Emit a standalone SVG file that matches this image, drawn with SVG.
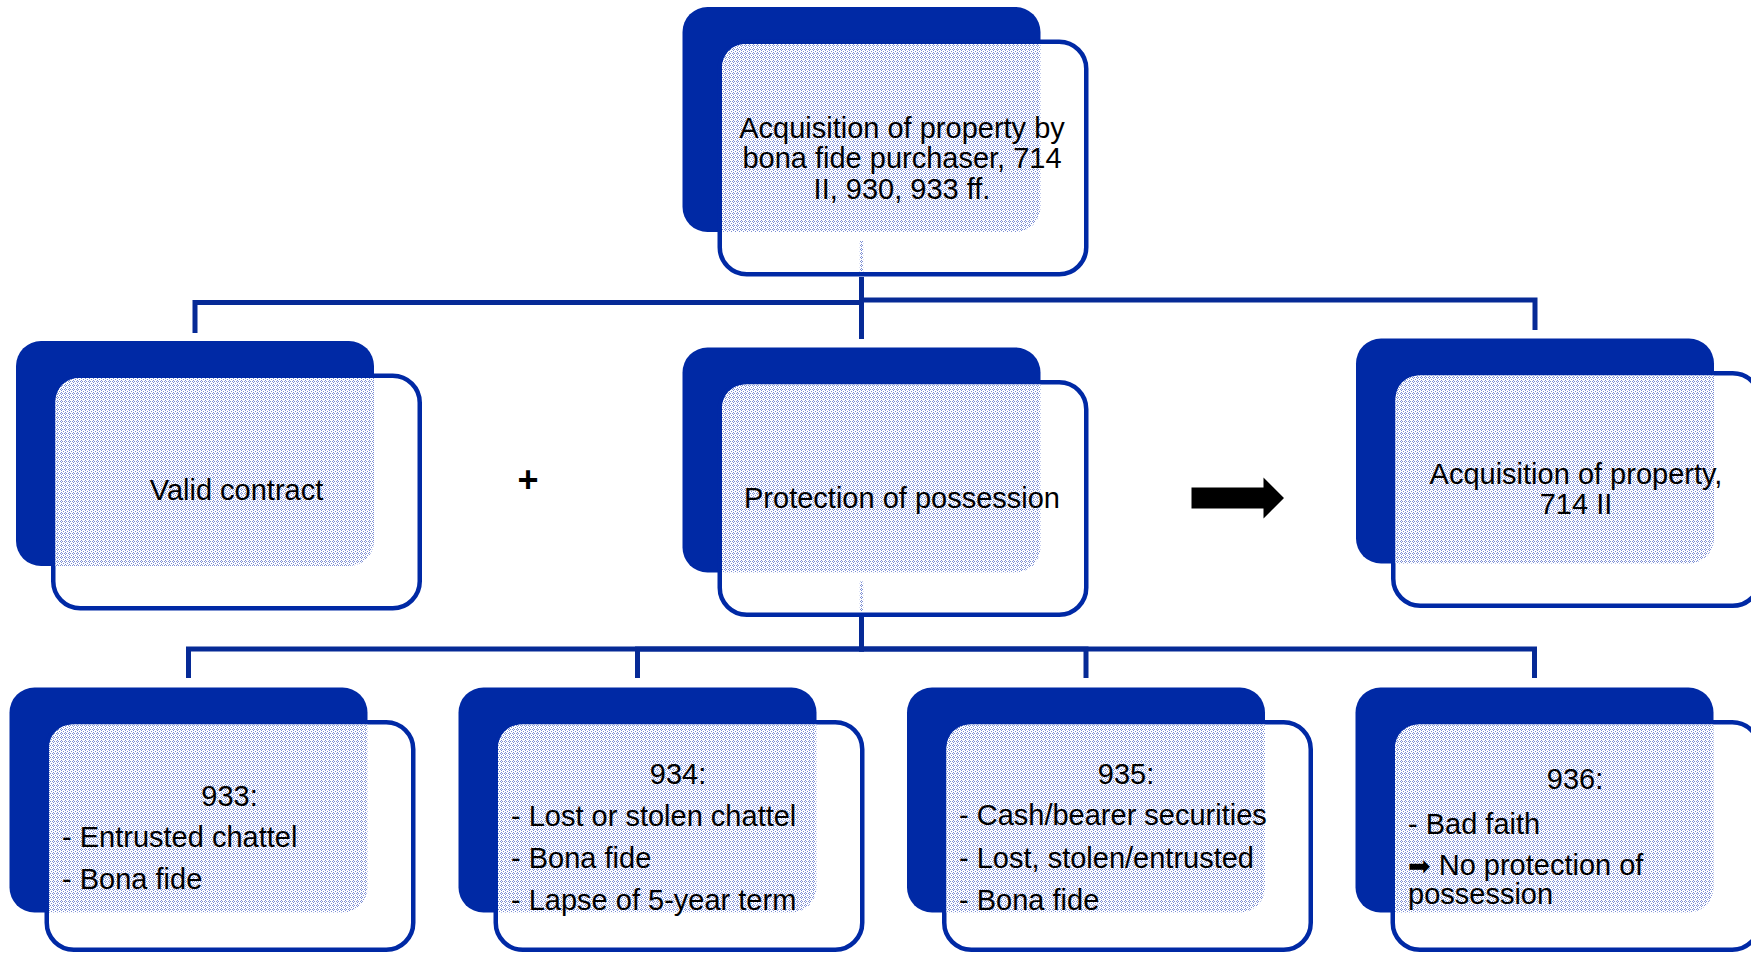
<svg xmlns="http://www.w3.org/2000/svg" width="1751" height="953" viewBox="0 0 1751 953">
  <defs>
    <!-- light blue dither used on the front cards -->
    <pattern id="dots" width="4" height="4" patternUnits="userSpaceOnUse">
      <rect width="4" height="4" fill="#ffffff"/>
      <rect x="1" y="0" width="1" height="1" fill="#7d8fd4"/>
      <rect x="0" y="1" width="1" height="1" fill="#7d8fd4"/>
      <rect x="2" y="1" width="1" height="1" fill="#7d8fd4"/>
      <rect x="1" y="2" width="1" height="1" fill="#7d8fd4"/>
      <rect x="3" y="3" width="1" height="1" fill="#7d8fd4"/>
    </pattern>
  </defs>
  <style>
    .back { fill: #0029a5; }
    .front { fill: #ffffff; stroke: #0029a5; stroke-width: 4.5; }
    .shade { fill: url(#dots); }
    .conn { fill: none; stroke: #062a96; stroke-width: 5; stroke-linejoin: miter; stroke-linecap: butt; }
    text { font-family: "Liberation Sans", Arial, sans-serif; font-size: 29px; fill: #000000; }
    .c { text-anchor: middle; }
    .sym { font-family: "DejaVu Sans", sans-serif; font-size: 27px; }
  </style>

  <!-- connectors -->
  <g id="connectors">
    <path class="conn" d="M861.5,277 V302.5 H195 V333"/>
    <path class="conn" d="M861.5,277 V300 H1535 V330"/>
    <path class="conn" d="M861.5,277 V339"/>
    <path class="conn" d="M861.5,617 V649 H188.5 V678"/>
    <path class="conn" d="M861.5,617 V649 H637.5 V678"/>
    <path class="conn" d="M861.5,617 V649 H1086 V678"/>
    <path class="conn" d="M861.5,617 V649 H1534.5 V678"/>
  </g>

  <!-- top: acquisition by bona fide purchaser -->
  <g id="node-top">
    <rect class="back" x="682.5" y="7" width="358" height="225" rx="25"/>
    <rect class="front" x="719.75" y="41.75" width="366.5" height="232.5" rx="27"/>
    <path class="shade" d="M722,67 A23,23 0 0 1 745,44 H1040.5 V207 A25,25 0 0 1 1015.5,232 H722 Z"/>
    <rect class="shade" x="859.75" y="241" width="3.5" height="31"/>
    <text class="c" x="902" y="137.5">Acquisition of property by</text>
    <text class="c" x="902" y="168">bona fide purchaser, 714</text>
    <text class="c" x="902" y="198.5">II, 930, 933 ff.</text>
  </g>

  <!-- middle row -->
  <g id="node-contract">
    <rect class="back" x="16" y="341" width="358" height="225" rx="25"/>
    <rect class="front" x="53.25" y="375.75" width="366.5" height="232.5" rx="27"/>
    <path class="shade" d="M55.5,401 A23,23 0 0 1 78.5,378 H374 V541 A25,25 0 0 1 349,566 H55.5 Z"/>
    <text class="c" x="236.5" y="500">Valid contract</text>
  </g>

  <g id="plus">
    <text class="c" x="528" y="492" style="font-size:36px;font-weight:bold">+</text>
  </g>

  <g id="node-possession">
    <rect class="back" x="682.5" y="347.5" width="358" height="225" rx="25"/>
    <rect class="front" x="719.75" y="382.25" width="366.5" height="232.5" rx="27"/>
    <path class="shade" d="M722,407.5 A23,23 0 0 1 745,384.5 H1040.5 V547.5 A25,25 0 0 1 1015.5,572.5 H722 Z"/>
    <rect class="shade" x="859.75" y="581.5" width="3.5" height="29.5"/>
    <text class="c" x="902" y="507.5">Protection of possession</text>
  </g>

  <g id="arrow">
    <polygon fill="#000000" points="1191.5,487.5 1263.5,487.5 1263.5,477.5 1284,498 1263.5,518.5 1263.5,508.5 1191.5,508.5"/>
  </g>

  <g id="node-result">
    <rect class="back" x="1356" y="338.5" width="358" height="225" rx="25"/>
    <rect class="front" x="1393.25" y="373.25" width="366.5" height="232.5" rx="27"/>
    <path class="shade" d="M1395.5,398.5 A23,23 0 0 1 1418.5,375.5 H1714 V538.5 A25,25 0 0 1 1689,563.5 H1395.5 Z"/>
    <text class="c" x="1576" y="484">Acquisition of property,</text>
    <text class="c" x="1576" y="514">714 II</text>
  </g>

  <!-- bottom row: sections 933 - 936 -->
  <g id="node-933">
    <rect class="back" x="9.5" y="687.5" width="358" height="225" rx="25"/>
    <rect class="front" x="46.75" y="722.25" width="366.5" height="227.5" rx="27"/>
    <path class="shade" d="M49,747.5 A23,23 0 0 1 72,724.5 H367.5 V887.5 A25,25 0 0 1 342.5,912.5 H49 Z"/>
    <text class="c" x="229.5" y="805.5">933:</text>
    <text x="62" y="846.5">- Entrusted chattel</text>
    <text x="62" y="888.5">- Bona fide</text>
  </g>

  <g id="node-934">
    <rect class="back" x="458.5" y="687.5" width="358" height="225" rx="25"/>
    <rect class="front" x="495.75" y="722.25" width="366.5" height="227.5" rx="27"/>
    <path class="shade" d="M498,747.5 A23,23 0 0 1 521,724.5 H816.5 V887.5 A25,25 0 0 1 791.5,912.5 H498 Z"/>
    <text class="c" x="678" y="783.5">934:</text>
    <text x="511" y="825.5">- Lost or stolen chattel</text>
    <text x="511" y="867.5">- Bona fide</text>
    <text x="511" y="909.5">- Lapse of 5-year term</text>
  </g>

  <g id="node-935">
    <rect class="back" x="907" y="687.5" width="358" height="225" rx="25"/>
    <rect class="front" x="944.25" y="722.25" width="366.5" height="227.5" rx="27"/>
    <path class="shade" d="M946.5,747.5 A23,23 0 0 1 969.5,724.5 H1265 V887.5 A25,25 0 0 1 1240,912.5 H946.5 Z"/>
    <text class="c" x="1126" y="783.5">935:</text>
    <text x="959" y="825">- Cash/bearer securities</text>
    <text x="959" y="867.5">- Lost, stolen/entrusted</text>
    <text x="959" y="909.5">- Bona fide</text>
  </g>

  <g id="node-936">
    <rect class="back" x="1355.5" y="687.5" width="358" height="225" rx="25"/>
    <rect class="front" x="1392.75" y="722.25" width="366.5" height="227.5" rx="27"/>
    <path class="shade" d="M1395,747.5 A23,23 0 0 1 1418,724.5 H1713.5 V887.5 A25,25 0 0 1 1688.5,912.5 H1395 Z"/>
    <text class="c" x="1575" y="788.5">936:</text>
    <text x="1408" y="833.5">- Bad faith</text>
    <text x="1408" y="875"><tspan class="sym">➡</tspan> No protection of</text>
    <text x="1408" y="903.5">possession</text>
  </g>
</svg>
